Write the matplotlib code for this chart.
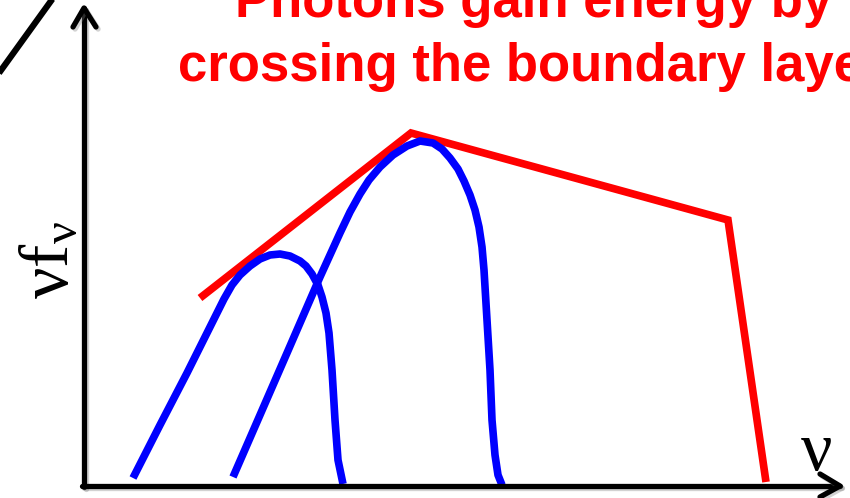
import numpy as np
import matplotlib
matplotlib.use("Agg")
import matplotlib.pyplot as plt
import matplotlib.patheffects as pe

# upright Times-like symbols for the axis labels
plt.rcParams['mathtext.fontset'] = 'custom'
plt.rcParams['mathtext.rm'] = 'Liberation Serif'
plt.rcParams['mathtext.it'] = 'Liberation Serif'

# broken power-law envelope (nu, nu f_nu)
red_nu = [116, 327, 644, 682]
red_flux = [187, 352, 265, 3]

# low-energy seed spectrum
seed_nu = [49, 76, 103, 126, 140, 148, 156, 166, 176, 186, 196, 206, 216, 222,
           228, 234, 238, 242, 245, 248, 251, 254, 259]
seed_flux = [7, 60, 112, 158, 186, 200, 210, 219, 226, 230, 231, 229, 224, 219,
             211, 200, 188, 172, 152, 115, 65, 25, 1]

# boosted spectrum after crossing the layer
boost_nu = [149, 176, 203, 236, 256, 266, 276, 285, 296, 309, 323, 336, 349, 358,
            366, 374, 380, 386, 391, 395, 398, 400, 403, 406, 408, 411, 414, 418]
boost_flux = [8, 70, 132, 208, 252, 273, 291, 305, 318, 330, 339, 344, 342, 336,
              327, 316, 304, 290, 275, 258, 238, 215, 165, 115, 65, 30, 10, 0]

fig = plt.figure(figsize=(8.5, 4.98), dpi=100)
ax = fig.add_axes([0, 0, 1, 1])
ax.set_xlim(-84, 766)
ax.set_ylim(-13, 485)
ax.axis('off')

shadow = [pe.SimpleLineShadow(offset=(1.5, -1.5), shadow_color='gray', alpha=0.35),
          pe.Normal()]

# axes with open arrow heads
axis_kw = dict(color='black', lw=3.8, solid_capstyle='round',
               solid_joinstyle='round', path_effects=shadow, zorder=3)
ax.plot([0, 0], [-2, 477], **axis_kw)
ax.plot([-11, 0, 12], [458, 477, 458], **axis_kw)
ax.plot([-2, 756], [-1, -1], **axis_kw)
ax.plot([736, 756, 736], [11, -1, -12], **axis_kw)

# leftover stroke at the corner
ax.plot([-90, -28], [405, 491], color='black', lw=4.5, solid_capstyle='butt')

ax.plot(red_nu, red_flux, color='#ff0000', lw=5.5, solid_capstyle='butt',
        solid_joinstyle='miter', zorder=2)
ax.plot(seed_nu, seed_flux, color='#0000ff', lw=5.5, solid_capstyle='butt',
        solid_joinstyle='round', zorder=2)
ax.plot(boost_nu, boost_flux, color='#0000ff', lw=5.5, solid_capstyle='butt',
        solid_joinstyle='round', zorder=2)

title_kw = dict(color='#ff0000', fontsize=38, fontweight='bold',
                family='Liberation Sans', va='baseline', ha='left')
ax.text(151, 468, 'Photons gain energy by', **title_kw)
ax.text(94, 404, 'crossing the boundary layer', **title_kw)

ax.text(-36, 225, r'$\nu\mathrm{f}_\nu$', fontsize=50, rotation=90,
        ha='center', va='center')
ax.text(732, 35, r'$\nu$', fontsize=50, ha='center', va='center')

fig.savefig('out.png', dpi=100)
